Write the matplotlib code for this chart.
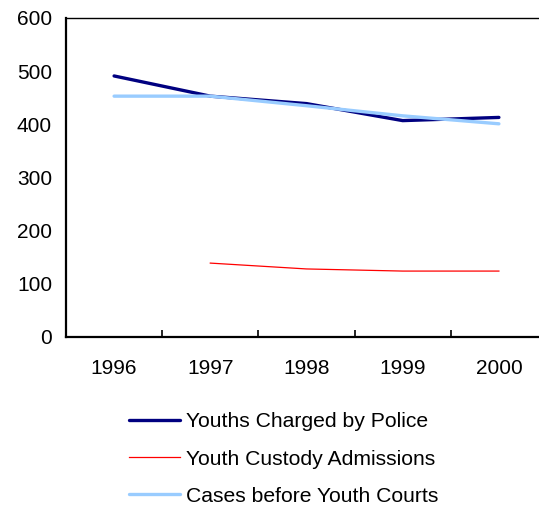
import matplotlib
matplotlib.use("Agg")
import matplotlib.pyplot as plt

plt.rcParams['font.family'] = ['Liberation Sans', 'DejaVu Sans']

# data
years = ['1996', '1997', '1998', '1999', '2000']
charged = [491, 453, 439, 407, 413]
custody = [None, 139, 128, 124, 124]
courts = [453, 453, 435, 416, 401]

x = list(range(len(years)))

fig = plt.figure(figsize=(5.39, 5.14), dpi=100)
# axes runs a little past the right edge, like the source image
ax = fig.add_axes([66 / 539, 1 - 337 / 514, (547 - 66) / 539, (337 - 18) / 514])

ax.plot(x, charged, color='#000080', lw=2.4, solid_capstyle='round',
        label='Youths Charged by Police')
cx = [i for i, v in zip(x, custody) if v is not None]
cy = [v for v in custody if v is not None]
ax.plot(cx, cy, color='#FF0000', lw=0.9, label='Youth Custody Admissions')
ax.plot(x, courts, color='#99CCFF', lw=2.4, solid_capstyle='round',
        label='Cases before Youth Courts')

ax.set_xlim(-0.5, 4.5)
ax.set_ylim(0, 600)
ax.set_yticks(range(0, 601, 100))
ax.tick_params(axis='y', length=0, pad=10, labelsize=15)

# Excel style: tick marks between categories, labels at centres
ax.set_xticks([0.5, 1.5, 2.5, 3.5])
ax.set_xticklabels([])
ax.tick_params(axis='x', which='major', direction='in', length=5, width=1.2)
ax.set_xticks(x, minor=True)
ax.set_xticklabels(years, minor=True)
ax.tick_params(axis='x', which='minor', length=0, pad=16, labelsize=15)

ax.spines['right'].set_visible(False)
ax.spines['left'].set_linewidth(1.6)
ax.spines['bottom'].set_linewidth(1.6)
ax.spines['top'].set_linewidth(1.0)

fig.legend(loc='upper left', bbox_to_anchor=(121 / 539, 1 - 404 / 514),
           frameon=False, fontsize=15.2, handlelength=2.4,
           handletextpad=0.28, labelspacing=0.86, borderaxespad=0)

fig.savefig('out.png', dpi=100)
